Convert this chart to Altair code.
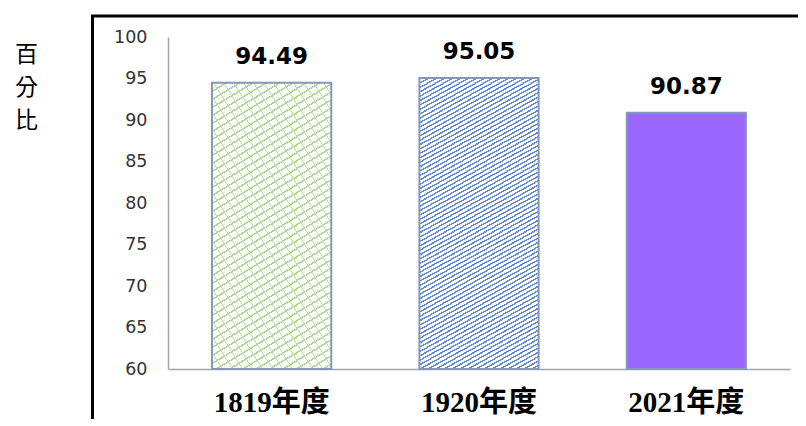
import altair as alt
import pandas as pd

categories = ["1819年度", "1920年度", "2021年度"]
values = [94.49, 95.05, 90.87]
labels = ["94.49", "95.05", "90.87"]
y_ticks = [60, 65, 70, 75, 80, 85, 90, 95, 100]

df = pd.DataFrame({"cat": categories, "val": values, "label": labels})

W, H = 622, 332
Y0, Y1 = 60, 100
px_per_unit = H / (Y1 - Y0)
step = W / 3.0
bar_w = step * (1 - 0.425)


def stripes(h, slope, period, frac, color, bg, direction):
    # diagonal stripe fill built from a linear gradient (bbox units)
    w = bar_w
    sw = slope * w
    k = (sw + h) / (sw * sw + h * h)
    a, b = slope * k * w, k * h
    if direction == "/":
        x1, y1, x2, y2 = 0, 0, a, b
    else:
        x1, y1, x2, y2 = 0, 1, a, 1 - b
    n = (sw + h) / period
    stops = []
    i = 0
    while i / n < 1:
        s = i / n
        m = min((i + frac) / n, 1)
        e = min((i + 1) / n, 1)
        stops += [
            alt.GradientStop(offset=s, color=color),
            alt.GradientStop(offset=m, color=color),
            alt.GradientStop(offset=m, color=bg),
            alt.GradientStop(offset=e, color=bg),
        ]
        i += 1
    return alt.LinearGradient(gradient="linear", x1=x1, y1=y1, x2=x2, y2=y2, stops=stops)


h1 = (values[0] - Y0) * px_per_unit
h2 = (values[1] - Y0) * px_per_unit

base = alt.Chart(df).encode(
    x=alt.X(
        "cat:N",
        sort=categories,
        scale=alt.Scale(paddingInner=0.425, paddingOuter=0.2125),
        axis=alt.Axis(
            title=None,
            labelAngle=0,
            labelFont="Liberation Serif, Noto Sans CJK TC",
            labelFontSize=29,
            labelFontWeight="bold",
            labelColor="#000000",
            labelPadding=19,
            ticks=False,
            grid=False,
            domainColor="#a6a6a6",
            domainWidth=1.5,
        ),
    ),
    y=alt.Y(
        "val:Q",
        scale=alt.Scale(domain=[Y0, Y1], nice=False, zero=False),
        axis=alt.Axis(
            title=["百", "分", "比"],
            titleAngle=0,
            titleX=-142,
            titleY=6,
            titleAlign="center",
            titleBaseline="top",
            titleLineHeight=33,
            titleFont="Noto Sans CJK TC",
            titleFontSize=23,
            titleFontWeight="normal",
            titleColor="#000000",
            values=y_ticks,
            labelFont="DejaVu Sans",
            labelFontSize=17.5,
            labelColor="#333333",
            labelPadding=21,
            ticks=False,
            grid=False,
            domainColor="#a6a6a6",
            domainWidth=1.5,
        ),
    ),
    y2=alt.datum(Y0),
)

stroke_col = "#8497b8"

bar1a = base.transform_filter(alt.datum.cat == categories[0]).mark_bar(
    fill=stripes(h1, 0.6, 8, 0.2, "#a8d888", "#ffffff", "/"), strokeWidth=0
)
bar1b = base.transform_filter(alt.datum.cat == categories[0]).mark_bar(
    fill=stripes(h1, 1.6, 16, 0.1, "#b8e0a0", "rgba(255,255,255,0)", "\\"),
    stroke=stroke_col,
    strokeWidth=2,
)
bar2 = base.transform_filter(alt.datum.cat == categories[1]).mark_bar(
    fill=stripes(h2, 0.55, 4.4, 0.36, "#6189dc", "#ffffff", "/"),
    stroke=stroke_col,
    strokeWidth=2,
)
bar3 = base.transform_filter(alt.datum.cat == categories[2]).mark_bar(
    fill="#9966ff", stroke=stroke_col, strokeWidth=2
)

text = base.mark_text(
    baseline="bottom",
    dy=-14,
    font="DejaVu Sans",
    fontWeight="bold",
    fontSize=23,
    color="#000000",
).encode(text="label:N", y2=alt.value(0))

frame = alt.Chart(pd.DataFrame({"a": [0]})).mark_rect(
    fill="transparent", stroke="#000000", strokeWidth=3
).encode(
    x=alt.value(-75.5), x2=alt.value(900), y=alt.value(-21), y2=alt.value(600)
)

chart = (
    alt.layer(bar1a, bar1b, bar2, bar3, text, frame)
    .properties(
        width=W,
        height=H,
        autosize=alt.AutoSizeParams(type="none"),
        padding={"left": 160, "top": 29, "right": 8, "bottom": 50},
    )
    .configure_view(stroke=None)
)

chart.save("out.html", embed_options={"renderer": "svg", "actions": False})
